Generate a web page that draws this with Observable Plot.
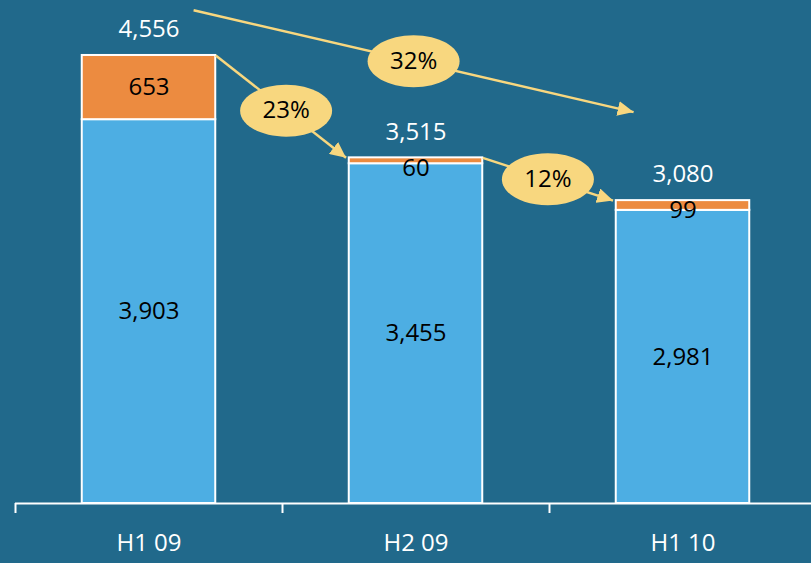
<!DOCTYPE html>
<html><head><meta charset="utf-8">
<script src="https://cdn.jsdelivr.net/npm/d3@7"></script>
<script src="https://cdn.jsdelivr.net/npm/@observablehq/plot@0.6"></script>
<style>
html,body{margin:0;padding:0;background:#21698b;overflow:hidden;}
#chart svg{display:block}
</style></head><body><div id="chart"></div>
<script>
const periods = ["H1 09", "H2 09", "H1 10"];
const baseValues = [3903, 3455, 2981];
const extraValues = [653, 60, 99];
const totals = [4556, 3515, 3080];
const stepChanges = ["23%", "12%"];
const overallChange = "32%";

const BG = "#21698b", BLUE = "#4daee3", ORANGE = "#ec8b40", YELLOW = "#f8d77f";
const FONT = "Open Sans";
const fmt = d3.format(",");

const segments = [];
periods.forEach((p, i) => {
  segments.push({i, y1: 0, y2: baseValues[i], fill: BLUE});
  segments.push({i, y1: baseValues[i], y2: totals[i], fill: ORANGE});
});
const rows = periods.map((p, i) => ({i, base: baseValues[i], extra: extraValues[i], total: totals[i]}));

const links = stepChanges.map((t, k) => ({
  x1: k + 0.25, y1: totals[k], x2: k + 1 - 0.262, y2: totals[k + 1], label: t, f: k === 0 ? 0.54 : 0.5
}));
links.push({x1: 0.167, y1: totals[0] + 460, x2: 2 - 0.185, y2: totals[2] + 900, label: overallChange, f: 0.5});
links.forEach(d => {
  d.mx = d.x1 + (d.x2 - d.x1) * d.f;
  d.my = d.y1 + (d.y2 - d.y1) * d.f;
});

const ellipse = {draw(ctx) {
  const rx = 46, ry = 26, k = 0.5523;
  ctx.moveTo(rx, 0);
  ctx.bezierCurveTo(rx, ry * k, rx * k, ry, 0, ry);
  ctx.bezierCurveTo(-rx * k, ry, -rx, ry * k, -rx, 0);
  ctx.bezierCurveTo(-rx, -ry * k, -rx * k, -ry, 0, -ry);
  ctx.bezierCurveTo(rx * k, -ry, rx, -ry * k, rx, 0);
  ctx.closePath();
}};

function triMarker() {
  const m = d3.create("svg:marker")
    .attr("viewBox", "-16 -7.5 16 15")
    .attr("markerWidth", 16).attr("markerHeight", 15)
    .attr("markerUnits", "userSpaceOnUse")
    .attr("orient", "auto").attr("refX", 0).attr("refY", 0)
    .attr("fill", YELLOW).attr("stroke", "none");
  m.append("path").attr("d", "M-16,-7.5L0,0L-16,7.5Z");
  return m.node();
}

const chart = Plot.plot({
  width: 811, height: 563,
  marginLeft: 15, marginRight: -5, marginTop: 0, marginBottom: 60,
  style: {background: BG, fontFamily: FONT},
  x: {type: "linear", domain: [-0.5, 2.5], axis: null},
  y: {domain: [0, 5115], axis: null},
  marks: [
    Plot.rectY(segments, {x1: d => d.i - 0.25, x2: d => d.i + 0.25, y1: "y1", y2: "y2", fill: "fill", stroke: "white", strokeWidth: 2}),
    Plot.ruleY([0], {x1: -0.5, x2: 2.5, stroke: "white", strokeWidth: 2}),
    Plot.axisX({ticks: [-0.5, 0.5, 1.5, 2.5], tickFormat: () => "", tickSize: 10, stroke: "white", strokeWidth: 2}),
    Plot.axisX({ticks: [0, 1, 2], tickSize: 0, tickPadding: 30, tickFormat: i => periods[i], fill: "white", fontSize: 24, fontFamily: FONT}),
    Plot.link(links, {x1: "x1", y1: "y1", x2: "x2", y2: "y2", stroke: YELLOW, strokeWidth: 2.5, markerEnd: triMarker}),
    Plot.dot(links, {x: "mx", y: "my", symbol: ellipse, fill: YELLOW, stroke: "none", r: 20}),
    Plot.text(links, {x: "mx", y: "my", text: "label", fill: "black", fontSize: 24, fontFamily: FONT}),
    Plot.text(rows, {x: "i", y: "total", text: d => fmt(d.total), dy: -26, fill: "white", fontSize: 24, fontFamily: FONT}),
    Plot.text(rows, {x: "i", y: d => d.base / 2, text: d => fmt(d.base), fill: "black", fontSize: 24, fontFamily: FONT}),
    Plot.text(rows.filter(d => d.extra > 300), {x: "i", y: d => d.base + d.extra / 2, text: d => fmt(d.extra), fill: "black", fontSize: 24, fontFamily: FONT}),
    Plot.text(rows.filter(d => d.extra <= 300), {x: "i", y: "total", text: d => fmt(d.extra), dy: 10, fill: "black", fontSize: 24, fontFamily: FONT})
  ]
});
document.getElementById("chart").append(chart);
</script></body></html>
